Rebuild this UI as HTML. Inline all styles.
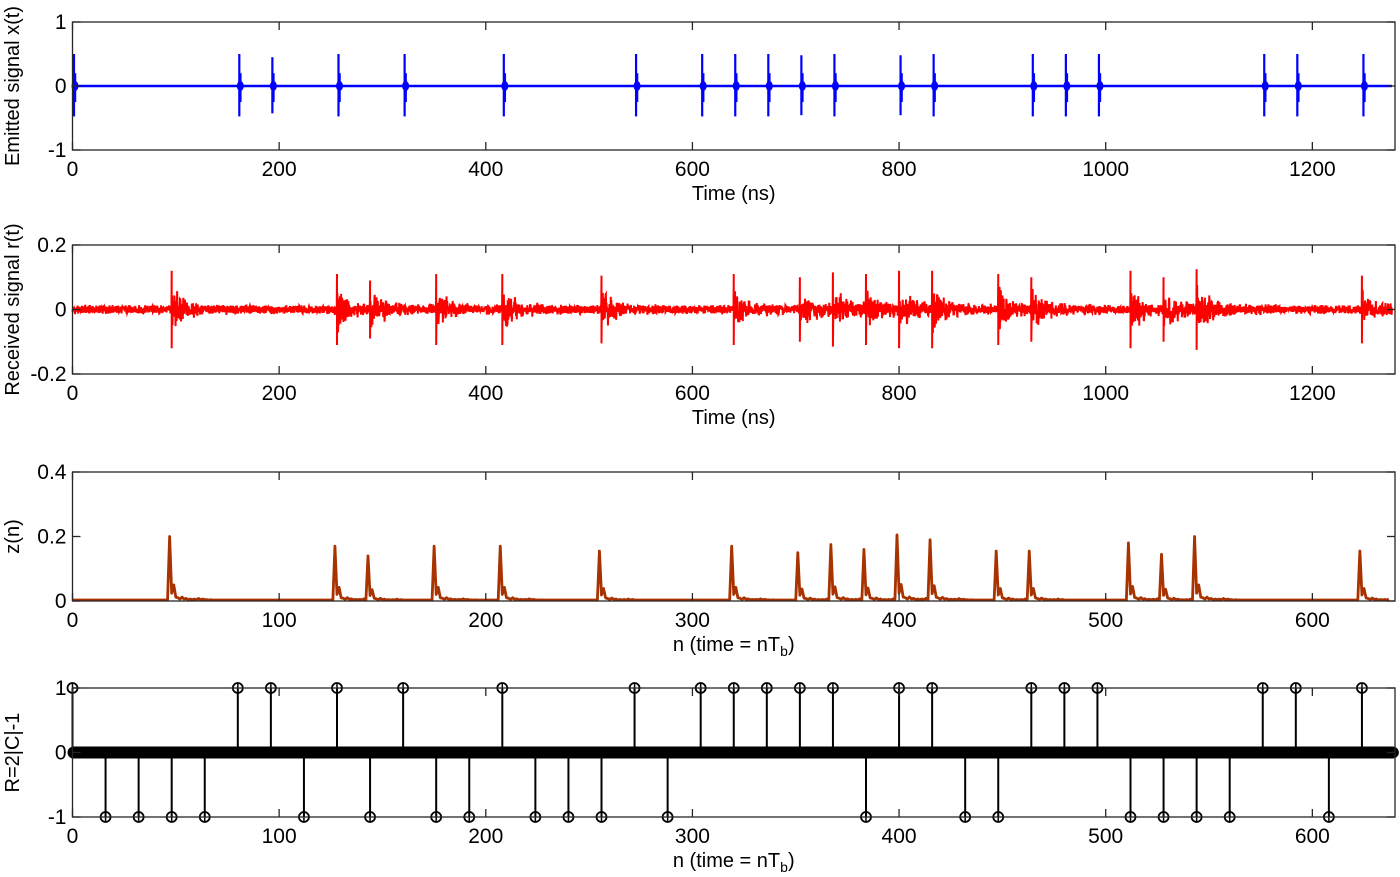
<!DOCTYPE html>
<html><head><meta charset="utf-8">
<style>
html,body{margin:0;padding:0;background:#fff;}
svg{display:block;font-family:"Liberation Sans",Arial,sans-serif;}
</style></head>
<body>
<svg id="fig" width="1400" height="877" viewBox="0 0 1400 877" xmlns="http://www.w3.org/2000/svg"></svg>
<script>
// ---- data ----
const emittedTimesNs = [0,160,192,256,320,416,544,608,640,672,704,736,800,832,928,960,992,1152,1184,1248];
const emittedAmp = [0.5,0.5,0.45,0.5,0.5,0.5,0.5,0.5,0.5,0.5,0.48,0.5,0.48,0.5,0.5,0.5,0.5,0.5,0.5,0.5];
const receivedTimesNs = [96,256,288,352,416,512,640,704,736,768,800,832,896,928,1024,1056,1088,1248];
const receivedAmp = [0.12,0.11,0.09,0.11,0.11,0.105,0.11,0.1,0.115,0.11,0.12,0.12,0.11,0.1,0.12,0.1,0.125,0.105];
const zPeakN = [47,127,143,175,207,255,319,351,367,383,399,415,447,463,511,527,543,623];
const zPeakVal = [0.2,0.17,0.14,0.17,0.17,0.155,0.17,0.15,0.175,0.16,0.205,0.19,0.155,0.155,0.18,0.145,0.2,0.155];
const stemPlusN = [0,80,96,128,160,208,272,304,320,336,352,368,400,416,464,480,496,576,592,624];
const stemMinusN = [16,32,48,64,112,144,176,192,224,240,256,288,384,432,448,512,528,544,560,608];
const timeTicks = [0,200,400,600,800,1000,1200];
const nTicks = [0,100,200,300,400,500,600];

const NS="http://www.w3.org/2000/svg";
const svg=document.getElementById('fig');
function el(tag,attrs,parent){const e=document.createElementNS(NS,tag);for(const k in attrs)e.setAttribute(k,attrs[k]);(parent||svg).appendChild(e);return e;}
const X0=72.5,X1=1395;
function panel(name,top,bot,xmax,ymin,ymax,xticks,yticks,ylabels,xlabel,ylabel,sub){
  const g=el('g',{});
  
  
  const sx=v=>X0+(v/xmax)*(X1-X0);
  const sy=v=>bot-(v-ymin)/(ymax-ymin)*(bot-top);
  const plot=el('g',{},g);
  
  
  const ax=el('g',{},g);
  
  
  el('rect',{x:X0,y:top,width:X1-X0,height:bot-top,fill:'none',stroke:'#262626','stroke-width':1.3},ax);
  xticks.forEach(t=>{const x=sx(t);
    el('line',{x1:x,x2:x,y1:bot,y2:bot-8,stroke:'#262626','stroke-width':1.3},ax);
    el('line',{x1:x,x2:x,y1:top,y2:top+8,stroke:'#262626','stroke-width':1.3},ax);
    const tx=el('text',{x:x,y:bot+26,'font-size':21,'text-anchor':'middle',fill:'#000'},ax);tx.textContent=t;
    
    
  });
  yticks.forEach((t,i)=>{const y=sy(t);
    el('line',{x1:X0,x2:X0+8,y1:y,y2:y,stroke:'#262626','stroke-width':1.3},ax);
    el('line',{x1:X1,x2:X1-8,y1:y,y2:y,stroke:'#262626','stroke-width':1.3},ax);
    const tx=el('text',{x:X0-6,y:y+7,'font-size':21,'text-anchor':'end',fill:'#000'},ax);tx.textContent=ylabels[i];
    
    
  });
  const xl=el('text',{x:(X0+X1)/2,y:bot+50,'font-size':20,'text-anchor':'middle',fill:'#000'},g);
  xl.textContent=xlabel;
  if(sub){const ts=el('tspan',{'font-size':14,dy:5},xl);ts.textContent=sub;const t2=el('tspan',{dy:-5},xl);t2.textContent=')';}
  
  
  const yl=el('text',{x:0,y:0,'font-size':20,'text-anchor':'middle',fill:'#000',transform:`translate(19,${(top+bot)/2}) rotate(-90)`},g);
  yl.textContent=ylabel;
  
  
  return {g:plot,sx,sy};
}
// deterministic texture helper (visual noise only)
function tex(i){const s=Math.sin(i*12.9898+78.233)*43758.5453;return (s-Math.floor(s))*2-1;}

// Panel 1: emitted
let p=panel('emitted-panel',22,150,1280,-1,1,timeTicks,[-1,0,1],['-1','0','1'],'Time (ns)','Emitted signal x(t)');
let ln=el('line',{x1:p.sx(0),x2:p.sx(1277),y1:p.sy(0),y2:p.sy(0),stroke:'#0000ff','stroke-width':2.5},p.g);


emittedTimesNs.forEach((t,i)=>{
  const x=p.sx(t)+1.5;
  const pl=el('line',{x1:x,x2:x,y1:p.sy(emittedAmp[i]),y2:p.sy(-emittedAmp[i]*0.95),stroke:'#0000ff','stroke-width':2.2},p.g);
  
  
  const b=el('ellipse',{cx:x+1,cy:p.sy(0),rx:3.5,ry:5,fill:'#0000ff'},p.g);
  
  
  el('line',{x1:x+1,x2:x+1,y1:p.sy(0.2),y2:p.sy(-0.25),stroke:'#0000ff','stroke-width':2.5},p.g);
});

// Panel 2: received
p=panel('received-panel',245,374,1280,-0.2,0.2,timeTicks,[-0.2,0,0.2],['-0.2','0','0.2'],'Time (ns)','Received signal r(t)');
let pts=[];
for(let k=0;k<=5110;k++){
  const t=k*0.25;
  let v=0.011*tex(k)+0.004*tex(k*7+3);
  let spike=-1;
  receivedTimesNs.forEach((t0,i)=>{
    const d=t-t0;
    if(Math.abs(d)<0.01) spike=i;
    else if(d>0&&d<110){v+= receivedAmp[i]*0.55*Math.exp(-d/12)*tex(k*3+i)+0.012*Math.exp(-d/45)*tex(k*5+1);}
  });
  if(spike>=0){pts.push(p.sx(t)+','+p.sy(receivedAmp[spike]));pts.push(p.sx(t)+','+p.sy(-receivedAmp[spike]));continue;}
  pts.push(p.sx(t).toFixed(2)+','+p.sy(v).toFixed(2));
}
let pl=el('polyline',{points:pts.join(' '),fill:'none',stroke:'#ff0000','stroke-width':2},p.g);



// Panel 3: z(n)
p=panel('correlator-panel',472,601,640,0,0.4,nTicks,[0,0.2,0.4],['0','0.2','0.4'],'n (time = nT','z(n)','b');
const z=new Array(638).fill(0.003);
const tail=[1,0.12,0.25,0.06,0.05,0.03,0.06,0.03,0.04,0.02,0.03,0.02,0.03,0.02,0.04,0.02,0.03,0.02,0.02,0.015,0.02,0.01];
zPeakN.forEach((n0,i)=>{tail.forEach((f,j)=>{if(n0+j<z.length)z[n0+j]=Math.max(z[n0+j],zPeakVal[i]*f);});});
pts=z.map((v,n)=>p.sx(n).toFixed(2)+','+p.sy(v).toFixed(2));
pl=el('polyline',{points:pts.join(' '),fill:'none',stroke:'#a83200','stroke-width':2.8,'stroke-linejoin':'round'},p.g);



// Panel 4: stems
p=panel('decision-panel',688,817,640,-1,1,nTicks,[-1,0,1],['-1','0','1'],'n (time = nT','R=2|C|-1','b');
const R=new Array(640).fill(0);
stemPlusN.forEach(n=>R[n]=1);
stemMinusN.forEach(n=>R[n]=-1);
R.forEach((v,n)=>{
  const x=p.sx(n),y=p.sy(v);
  if(v!==0){
    const s=el('line',{x1:x,x2:x,y1:p.sy(0),y2:y,stroke:'#000','stroke-width':2},p.g);
    
    
  }
  const c=el('circle',{cx:x,cy:y,r:5,fill:'none',stroke:'#000','stroke-width':1.8},p.g);
  
  
  if(v!==0){el('line',{x1:x,x2:x,y1:y-5,y2:y+5,stroke:'#000','stroke-width':1.5},p.g);}
});
const band=el('rect',{x:p.sx(0)-5,y:p.sy(0)-6,width:p.sx(639)-p.sx(0)+10,height:12,rx:6,fill:'#000'},p.g);


</script>
</body></html>
